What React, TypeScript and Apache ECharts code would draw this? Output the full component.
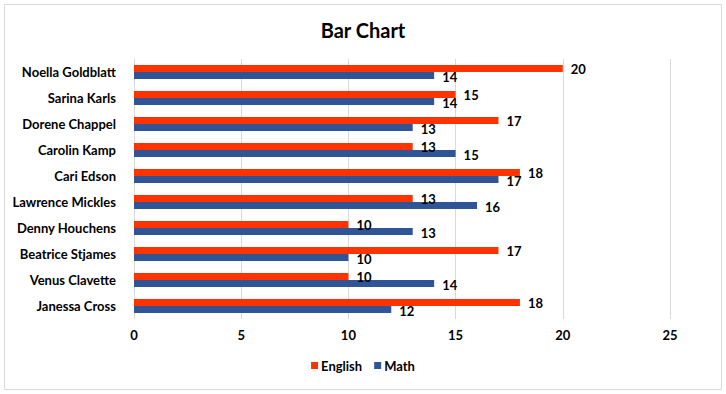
import React, { useEffect, useRef } from "react";
import * as echarts from "echarts";

const categories = [
  "Janessa Cross",
  "Venus Clavette",
  "Beatrice Stjames",
  "Denny Houchens",
  "Lawrence Mickles",
  "Cari Edson",
  "Carolin Kamp",
  "Dorene Chappel",
  "Sarina Karls",
  "Noella Goldblatt",
];
const english = [18, 10, 17, 10, 13, 18, 13, 17, 15, 20];
const math = [12, 14, 10, 13, 16, 17, 15, 13, 14, 14];
const xTicks = { min: 0, max: 25, interval: 5 };

const FONT = "Lato, 'Liberation Sans', sans-serif";

export default function App() {
  const ref = useRef<HTMLDivElement>(null);
  useEffect(() => {
    if (!ref.current) return;
    const chart = echarts.init(ref.current, undefined, { renderer: "svg" });
    const labelStyle = {
      show: true,
      position: "right",
      distance: 8,
      fontFamily: FONT,
      fontSize: 13,
      fontWeight: "bold",
      color: "#000",
    };
    chart.setOption({
      animation: false,
      backgroundColor: "#ffffff",
      textStyle: { fontFamily: FONT },
      title: {
        text: "Bar Chart",
        left: "center",
        top: 15,
        textStyle: { fontFamily: FONT, fontSize: 20, fontWeight: "bold", color: "#000" },
      },
      graphic: [
        {
          type: "rect",
          shape: { x: 4.5, y: 4.5, width: 717, height: 385 },
          style: { fill: "none", stroke: "#d9d9d9", lineWidth: 1 },
          silent: true,
        },
      ],
      legend: {
        data: ["English", "Math"],
        bottom: 17,
        left: "center",
        itemWidth: 7,
        itemHeight: 7,
        itemGap: 12,
        icon: "rect",
        textStyle: { fontFamily: FONT, fontSize: 13, fontWeight: "bold", color: "#000", padding: [0, 0, 0, -2] },
      },
      grid: { left: 134, right: 56, top: 59, bottom: 75, containLabel: false },
      xAxis: {
        type: "value",
        min: xTicks.min,
        max: xTicks.max,
        interval: xTicks.interval,
        axisLine: { show: false },
        axisTick: { show: false },
        splitLine: { show: true, lineStyle: { color: "#d9d9d9", width: 1 } },
        axisLabel: { fontFamily: FONT, fontSize: 13, fontWeight: "bold", color: "#000", margin: 9 },
      },
      yAxis: {
        type: "category",
        data: categories,
        axisLine: { show: true, lineStyle: { color: "#d9d9d9" } },
        axisTick: { show: false },
        axisLabel: { fontFamily: FONT, fontSize: 13, fontWeight: "bold", color: "#000", margin: 18 },
      },
      series: [
        {
          name: "English",
          type: "bar",
          data: english,
          barWidth: 7,
          barGap: "0%",
          itemStyle: { color: "#ff3300" },
          label: { ...labelStyle, offset: [0, 0] },
        },
        {
          name: "Math",
          type: "bar",
          data: math,
          barWidth: 7,
          barGap: "0%",
          itemStyle: { color: "#2f5597" },
          label: { ...labelStyle, offset: [0, 1] },
        },
      ],
    });
    return () => chart.dispose();
  }, []);
  return (
    <div
      ref={ref}
      style={{ position: "fixed", left: 0, top: 0, width: 726, height: 394 }}
    />
  );
}
